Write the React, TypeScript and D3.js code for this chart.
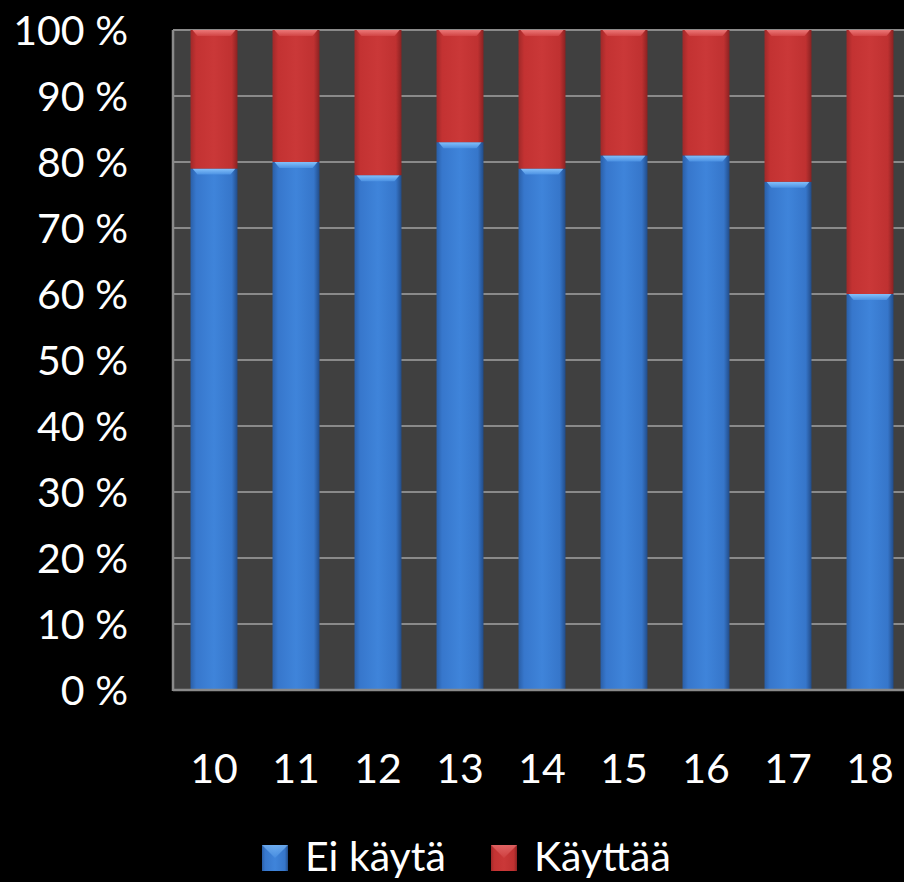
import React from "react";
import * as d3 from "d3";

const categories = ["10", "11", "12", "13", "14", "15", "16", "17", "18"];
const eiKayta = [79, 80, 78, 83, 79, 81, 81, 77, 60];
const kayttaa = [21, 20, 22, 17, 21, 19, 19, 23, 40];
const yTicks = [0, 10, 20, 30, 40, 50, 60, 70, 80, 90, 100];
const seriesNames = ["Ei käytä", "Käyttää"];

const W = 904;
const H = 882;
const plotLeft = 173;
const plotTop = 30;
const plotBottom = 690;
const step = 82;
const FONT = "Lato, 'Open Sans', sans-serif";
const FS = 41;

export default function App() {
  const x = d3
    .scaleBand<string>()
    .domain(categories)
    .range([plotLeft, plotLeft + step * categories.length])
    .paddingInner(0.427)
    .paddingOuter(0.2135);
  const y = d3.scaleLinear().domain([0, 100]).range([plotBottom, plotTop]);

  const stack = d3
    .stack<number>()
    .keys(["a", "b"])
    .value((i, key) => (key === "a" ? eiKayta[i] : kayttaa[i]));
  const series = stack(categories.map((_, i) => i) as any);

  const bw = x.bandwidth();
  const gradIds = ["gBlue", "gRed"];
  const bevelIds = ["bBlue", "bRed"];

  return (
    <svg
      width={W}
      height={H}
      style={{ position: "absolute", left: 0, top: 0, background: "#000" }}
    >
      <defs>
        <linearGradient id="gBlue" x1="0" x2="1" y1="0" y2="0">
          <stop offset="0" stopColor="#2a5fa8" />
          <stop offset="0.12" stopColor="#3777cc" />
          <stop offset="0.5" stopColor="#3f84da" />
          <stop offset="0.88" stopColor="#3676ca" />
          <stop offset="1" stopColor="#224c88" />
        </linearGradient>
        <linearGradient id="gRed" x1="0" x2="1" y1="0" y2="0">
          <stop offset="0" stopColor="#a02929" />
          <stop offset="0.12" stopColor="#c33232" />
          <stop offset="0.5" stopColor="#ca3838" />
          <stop offset="0.88" stopColor="#bf3131" />
          <stop offset="1" stopColor="#8a2222" />
        </linearGradient>
        <linearGradient id="bBlue" x1="0" x2="0" y1="0" y2="1">
          <stop offset="0" stopColor="#8cc8ff" />
          <stop offset="1" stopColor="#4d93e4" />
        </linearGradient>
        <linearGradient id="bRed" x1="0" x2="0" y1="0" y2="1">
          <stop offset="0" stopColor="#f08080" />
          <stop offset="1" stopColor="#d24545" />
        </linearGradient>
      </defs>
      <rect x={0} y={0} width={W} height={H} fill="#000" />
      <rect
        x={plotLeft}
        y={plotTop}
        width={W - plotLeft + 20}
        height={plotBottom - plotTop}
        fill="#404040"
      />
      {yTicks.map((t) => (
        <line
          key={"g" + t}
          x1={plotLeft}
          x2={W + 10}
          y1={y(t)}
          y2={y(t)}
          stroke="#8a8a8a"
          strokeWidth={2}
        />
      ))}
      {series.map((s, si) =>
        s.map((d, i) => {
          const x0 = x(categories[i]) as number;
          const yTop = y(d[1]);
          const yBot = y(d[0]);
          const bev = 6;
          return (
            <g key={si + "-" + i}>
              <rect
                x={x0}
                y={yTop}
                width={bw}
                height={yBot - yTop}
                fill={`url(#${gradIds[si]})`}
              />
              <polygon
                points={`${x0 + 2},${yTop} ${x0 + bw - 2},${yTop} ${x0 + bw - bev - 1},${yTop + bev} ${x0 + bev + 1},${yTop + bev}`}
                fill={`url(#${bevelIds[si]})`}
                opacity={0.9}
              />
            </g>
          );
        })
      )}
      <line
        x1={plotLeft}
        x2={plotLeft}
        y1={plotTop}
        y2={plotBottom + 1}
        stroke="#8a8a8a"
        strokeWidth={2.5}
      />
      <line
        x1={plotLeft}
        x2={W + 10}
        y1={plotBottom}
        y2={plotBottom}
        stroke="#8a8a8a"
        strokeWidth={2.5}
      />
      {yTicks.map((t) => (
        <text
          key={"t" + t}
          x={128}
          y={y(t) + 15}
          textAnchor="end"
          fill="#fff"
          fontFamily={FONT}
          fontSize={FS}
        >
          {t} %
        </text>
      ))}
      {categories.map((c) => (
        <text
          key={"c" + c}
          x={(x(c) as number) + bw / 2}
          y={783}
          textAnchor="middle"
          fill="#fff"
          fontFamily={FONT}
          fontSize={FS}
        >
          {c}
        </text>
      ))}
      {seriesNames.map((n, i) => {
        const lx = i === 0 ? 262 : 491;
        return (
          <g key={n}>
            <rect x={lx} y={845} width={26} height={26} fill={`url(#${gradIds[i]})`} />
            <polygon
              points={`${lx},845 ${lx + 26},845 ${lx + 13},858`}
              fill={`url(#${bevelIds[i]})`}
              opacity={0.6}
            />
            <text x={lx + 43} y={871} fill="#fff" fontFamily={FONT} fontSize={FS}>
              {n}
            </text>
          </g>
        );
      })}
    </svg>
  );
}
